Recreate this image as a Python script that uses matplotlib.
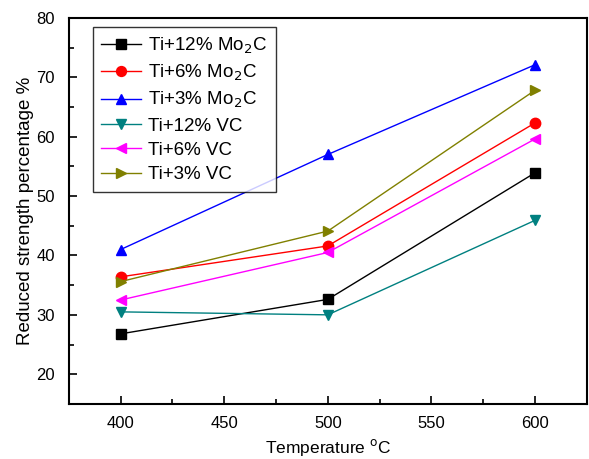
import numpy as np
import matplotlib
matplotlib.use('Agg')
import matplotlib.pyplot as plt
from matplotlib.ticker import MultipleLocator

plt.rcParams['font.family'] = ['Liberation Sans', 'DejaVu Sans']

# Data
temps = [400, 500, 600]
ti12_mo2c = [26.8, 32.6, 53.9]
ti6_mo2c = [36.4, 41.6, 62.3]
ti3_mo2c = [41.0, 57.0, 72.1]
ti12_vc = [30.5, 30.0, 45.9]
ti6_vc = [32.5, 40.5, 59.6]
ti3_vc = [35.6, 44.1, 67.8]

labels = ['Ti+12% Mo$_2$C', 'Ti+6% Mo$_2$C', 'Ti+3% Mo$_2$C',
          'Ti+12% VC', 'Ti+6% VC', 'Ti+3% VC']
series = [ti12_mo2c, ti6_mo2c, ti3_mo2c, ti12_vc, ti6_vc, ti3_vc]
colors = ['black', 'red', 'blue', '#008080', 'magenta', '#808000']
markers = ['s', 'o', '^', 'v', '<', '>']

fig = plt.figure(figsize=(5.89, 4.59), dpi=100)
ax = fig.add_axes([0.117, 0.12, 0.879, 0.841])

for ys, lab, c, m in zip(series, labels, colors, markers):
    ax.plot(temps, ys, color=c, marker=m, markersize=7.5, linewidth=1.0, label=lab)

ax.set_xlim(375, 625)
ax.set_ylim(15, 80)
ax.xaxis.set_major_locator(MultipleLocator(50))
ax.xaxis.set_minor_locator(MultipleLocator(25))
ax.yaxis.set_major_locator(MultipleLocator(10))
ax.yaxis.set_minor_locator(MultipleLocator(5))
ax.tick_params(which='both', direction='in', labelsize=12, width=1.2)
ax.tick_params(which='major', length=6)
ax.tick_params(which='minor', length=3.5)
ax.tick_params(axis='x', pad=9)
ax.tick_params(axis='y', pad=10)
for sp in ax.spines.values():
    sp.set_linewidth(1.5)

ax.set_xlabel('Temperature $^{\\mathrm{o}}$C', fontsize=12.5, labelpad=4)
ax.set_ylabel('Reduced strength percentage %', fontsize=13.5, labelpad=2)

leg = ax.legend(loc='upper left', bbox_to_anchor=(0.046, 0.977), fontsize=13.5,
                frameon=True, fancybox=False, edgecolor='black',
                handlelength=2.1, borderpad=0.45, labelspacing=0.38,
                handletextpad=0.4, borderaxespad=0, markerscale=0.95)
leg.get_frame().set_linewidth(1.0)

plt.savefig('out.png', dpi=100)
